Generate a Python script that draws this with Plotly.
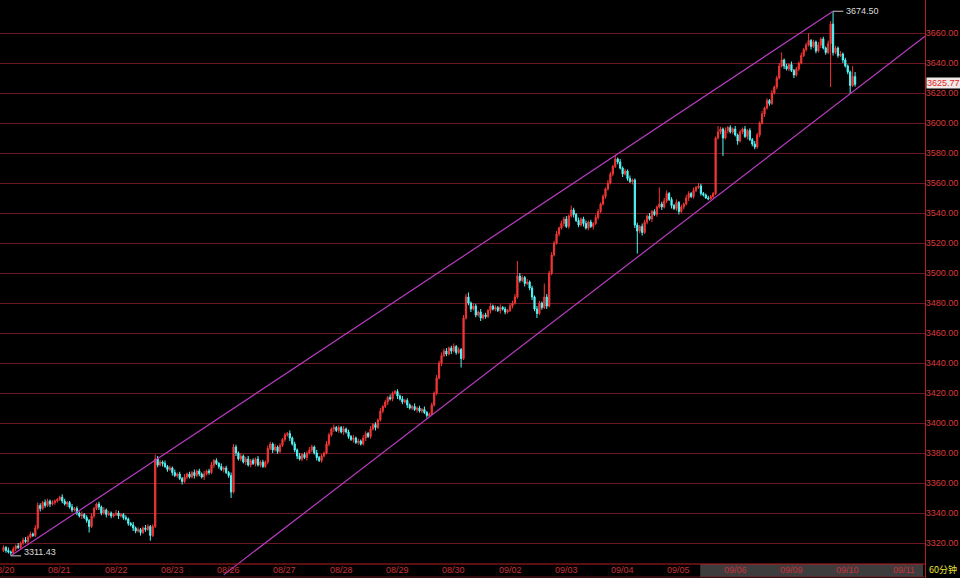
import numpy as np
import plotly.graph_objects as go

# 60-minute bars, closes in trading order
close_px = [
    3317, 3315, 3314, 3313.5, 3316, 3318, 3317, 3320, 3322, 3321,
    3324, 3326, 3325, 3330, 3345, 3343, 3347, 3345, 3348, 3346,
    3347, 3348, 3349, 3350.5, 3348, 3346, 3347, 3344, 3342, 3343,
    3340, 3338, 3339, 3337, 3335, 3331, 3338, 3343, 3346, 3344,
    3340, 3342, 3339, 3340, 3338, 3339, 3340, 3338, 3339, 3337,
    3336, 3333, 3332, 3330, 3328, 3329, 3327, 3330, 3329, 3331,
    3325, 3331, 3376, 3372, 3374, 3373, 3371, 3369, 3370, 3367,
    3365, 3366, 3363, 3361, 3364, 3366, 3364, 3367, 3365, 3368,
    3366, 3364, 3366, 3368, 3367, 3372, 3375, 3373, 3371, 3369,
    3370, 3367, 3365, 3354, 3384, 3380, 3376, 3378, 3374, 3376,
    3372, 3375, 3373, 3376, 3372, 3374, 3371, 3374, 3383, 3386,
    3382, 3384, 3381, 3385, 3389, 3392, 3393, 3390, 3386, 3382,
    3378, 3376, 3379, 3377, 3380, 3382, 3384, 3380, 3377, 3375,
    3378, 3380, 3386, 3392, 3396, 3397, 3395, 3397, 3394, 3396,
    3394, 3391, 3389, 3390, 3387, 3388, 3386, 3390, 3393, 3391,
    3396, 3399, 3397, 3402, 3408, 3411, 3414, 3417, 3416, 3420,
    3421, 3418, 3416, 3414, 3415, 3412, 3410, 3411, 3409, 3410,
    3408, 3409, 3407, 3405, 3406, 3412, 3420, 3430, 3440, 3445,
    3448, 3446, 3450, 3448, 3451, 3447, 3449, 3443, 3470, 3484,
    3480, 3476, 3478, 3472, 3474, 3470, 3472, 3471, 3475, 3478,
    3476, 3477, 3475, 3477, 3476, 3474, 3475, 3478, 3480, 3484,
    3498, 3495, 3497, 3493, 3494, 3490, 3484, 3476, 3473, 3480,
    3477, 3484, 3478, 3500, 3512, 3520, 3526, 3530, 3533, 3536,
    3531, 3538, 3542, 3539, 3535, 3532, 3536, 3533, 3530, 3534,
    3531, 3533, 3537, 3541, 3546, 3551, 3556, 3560, 3566, 3571,
    3576, 3574, 3570, 3566, 3568, 3563, 3561, 3562, 3532, 3528,
    3531, 3527, 3534, 3538, 3536, 3541, 3539, 3544, 3546, 3544,
    3548, 3553, 3549, 3545, 3543, 3547, 3541, 3544, 3546, 3550,
    3553, 3551, 3555, 3557, 3558, 3553, 3552, 3550, 3549.5, 3551,
    3553, 3590, 3594, 3596, 3590, 3595, 3597, 3594, 3596, 3592,
    3588, 3594, 3596, 3591, 3595, 3589, 3586, 3584, 3592, 3600,
    3606, 3610, 3615, 3613, 3620, 3624, 3630, 3638, 3642, 3638,
    3636, 3639, 3635, 3632, 3636, 3640, 3645, 3649, 3652, 3655,
    3651, 3654, 3648, 3652, 3656, 3650, 3647, 3653, 3666, 3647,
    3650, 3645, 3646, 3642, 3638, 3634, 3625, 3631, 3625.77,
]
first_open = 3315.0

# distance from the candle body to the top / bottom of each wick
upper_wick = [
    1.5, 1, 2, 1, 1.5, 1, 2, 1, 1.5, 2,
    1, 1.5, 1, 2, 2, 1.5, 1, 2, 1.5, 1,
    1.5, 1, 1, 1, 2, 1.5, 1, 1, 2, 1,
    1.5, 1, 2, 1, 1.5, 1, 2, 1, 1, 1.5,
    1, 2, 1, 1.5, 1, 1, 2, 1.5, 1, 1,
    1.5, 1, 1, 2, 1, 1.5, 1, 1, 2, 1.5,
    1, 1.5, 3, 2, 1.5, 1, 2, 1, 1.5, 1,
    2, 1, 1.5, 1, 2, 1, 1.5, 1, 2, 1,
    1.5, 1, 2, 1, 1.5, 2, 1, 1.5, 1, 2,
    1, 1.5, 1, 2, 2, 1.5, 1, 2, 1, 1.5,
    2, 1, 1.5, 1, 2, 1, 1.5, 1, 2, 1.5,
    1, 2, 1, 1.5, 1, 1.5, 1, 2, 1, 1.5,
    1, 2, 1, 1.5, 1, 2, 1.5, 1, 2, 1,
    1.5, 1, 2, 1.5, 1, 2, 1, 1.5, 1, 2,
    1, 1.5, 1, 2, 1, 1.5, 1, 2, 1.5, 1,
    2, 1, 1.5, 1, 2, 1, 1.5, 1, 2, 1,
    1, 1.5, 1, 2, 1, 1.5, 1, 1, 2, 1,
    1.5, 1, 2, 1, 1, 1.5, 1, 2, 1.5, 2,
    1.5, 2, 1, 1.5, 2, 1, 1.5, 1, 2, 2,
    3, 1, 2, 1.5, 1, 2, 1, 1.5, 1, 2,
    1, 1.5, 1, 2, 1, 1.5, 1, 2, 1.5, 2,
    10, 2, 1.5, 1, 2, 1, 1.5, 1, 2, 1.5,
    1, 9, 2, 1.5, 2, 1.5, 2, 1, 2, 1.5,
    2, 1, 3, 1.5, 1, 2, 1, 1.5, 2, 1,
    1.5, 1, 2, 1.5, 1, 1.5, 1, 2, 1.5, 1,
    2.7, 1, 2, 1, 1.5, 1, 2, 1, 1, 1.5,
    1, 2, 1.5, 1, 2, 1, 1.5, 1, 11, 1.5,
    2, 2, 1, 1.5, 1, 2, 1, 1.5, 1, 2,
    1.5, 1, 2, 1, 2, 1.5, 1, 1, 1.5, 1,
    1, 1, 4, 1.5, 1, 2, 1, 1.5, 1, 2,
    1, 1.5, 1, 2, 1, 1.5, 1, 2, 1.5, 1,
    2, 1, 1.5, 1, 2, 1, 1.5, 2, 5, 1,
    1.5, 1, 2, 1, 1.5, 1, 2, 1, 1.5, 5,
    1, 1.5, 1, 2, 1, 1.5, 1, 2, 2, 8.5,
    1.5, 1, 2, 1, 1.5, 1, 1, 7, 3,
]
lower_wick = [
    1, 1.5, 1, 2.07, 1, 1.5, 1, 1, 1.5, 1,
    1.5, 1, 1, 1, 1, 2, 1, 1.5, 1, 2,
    1, 1.5, 1, 1, 1.5, 1, 2, 1, 1.5, 1,
    1.5, 1, 2, 1, 1.5, 4, 1, 1.5, 1, 2,
    1.5, 1, 2, 1, 1.5, 1, 1, 2, 1, 1.5,
    1, 1.5, 1, 2, 1.5, 1, 2, 1, 1.5, 1,
    3.5, 1, 1, 1.5, 1, 2, 1, 1.5, 1, 2,
    1, 1.5, 1, 2, 1, 1.5, 1, 1, 2, 1,
    1.5, 1, 2, 1, 1.5, 1, 2, 1, 1.5, 1,
    2, 1, 1.5, 4, 1, 2, 1, 1.5, 1, 2,
    1, 1.5, 1, 2, 1, 1.5, 1, 1, 1.5, 1,
    2, 1, 1.5, 1, 1, 1.5, 1, 2, 1, 1.5,
    2, 1, 1.5, 1, 2, 1, 1.5, 1, 2, 1,
    1.5, 1, 1, 1.5, 1, 2, 1, 1.5, 1, 2,
    1, 1.5, 1, 2, 1, 1.5, 1, 1, 2, 1,
    1.5, 1, 2, 1, 1, 1.5, 1, 2, 1, 1.5,
    1, 2, 1, 1.5, 1, 2, 1, 1.5, 1, 2,
    1, 1.5, 1, 1.5, 1, 0.5, 1, 1.5, 1, 2,
    1, 1.5, 1, 2, 1, 1.5, 1, 6, 1, 1,
    1.5, 2, 1, 1.5, 1, 2, 1, 1.5, 1, 2,
    1, 1.5, 1, 2, 1, 1.5, 1, 1, 1.5, 1,
    1, 1.5, 1, 2, 1, 1.5, 2, 1.5, 3, 1,
    1.5, 1, 2, 1, 1.5, 1, 1, 1.5, 1, 2,
    1, 1.5, 1, 2, 1, 1.5, 1, 2, 1, 1.5,
    1, 2, 1, 1.5, 1, 1, 1.5, 1, 1, 1.5,
    1, 1.5, 1, 2, 1, 1.5, 1, 2, 2, 15,
    1.5, 2, 1, 1.5, 1, 2, 1, 1.5, 1, 2,
    1, 1.5, 1, 2, 1, 1.5, 2, 1, 1.5, 1,
    2, 1, 1.5, 1, 1, 1.5, 1, 0.5, 1, 0.7,
    1.5, 1, 1, 1.5, 12, 1, 2, 1, 1.5, 1,
    2.5, 1, 1.5, 1, 2, 1, 1.5, 1.5, 1, 1.5,
    1, 2, 1, 1.5, 1, 1, 1.5, 1, 1, 2,
    1, 1.5, 1, 2, 1, 1.5, 1, 1, 1.5, 1,
    2, 1, 1.5, 1, 2, 1, 1.5, 1, 29, 2,
    1, 1.5, 1, 2, 1, 1.5, 5.5, 1, 1.5,
]

day_labels = ["08/20", "08/21", "08/22", "08/23", "08/26", "08/27", "08/28",
              "08/29", "08/30", "09/02", "09/03", "09/04", "09/05", "09/06",
              "09/09", "09/10", "09/11"]
bars_per_day = 23
price_ticks = [3320, 3340, 3360, 3380, 3400, 3420, 3440, 3460, 3480, 3500,
               3520, 3540, 3560, 3580, 3600, 3620, 3640, 3660]
support_touches = [174, 346]   # bars whose lows carry the lower channel line
period_label = "60分钟"

UP = "#f23636"
DN = "#54f6f6"
CHANNEL = "#b83cc0"
GRID = "#6a1822"
AXIS = "#b81e24"
TXT_RED = "#d83a3a"

close = np.array(close_px, dtype=float)
open_ = np.concatenate([[first_open], close[:-1]])
high = np.maximum(open_, close) + np.array(upper_wick, dtype=float)
low = np.minimum(open_, close) - np.array(lower_wick, dtype=float)
bar = np.arange(len(close))

i_hi = int(np.argmax(high))
i_lo = int(np.argmin(low))
x_min, x_max = -1.43, 376.57
y_min, y_max = 3296.67, 3682.0

fig = go.Figure()
fig.add_trace(go.Candlestick(
    x=bar, open=open_, high=high, low=low, close=close,
    increasing=dict(line=dict(color=UP, width=1), fillcolor=UP),
    decreasing=dict(line=dict(color=DN, width=1), fillcolor=DN),
    whiskerwidth=0, hoverinfo="skip", showlegend=False,
))

# upper channel: from the lowest low to the highest high
fig.add_trace(go.Scatter(
    x=[i_lo, i_hi], y=[low[i_lo], high[i_hi]], mode="lines",
    line=dict(color=CHANNEL, width=1.2), hoverinfo="skip", showlegend=False,
))
# lower channel: through two swing lows, extended across the chart
a, b = support_touches
slope = (low[b] - low[a]) / (b - a)
lx = np.array([90.0, x_max])
fig.add_trace(go.Scatter(
    x=lx, y=low[a] + slope * (lx - a), mode="lines",
    line=dict(color=CHANNEL, width=1.2), hoverinfo="skip", showlegend=False,
))

# extreme-price markers
for i, v in ((i_hi, high[i_hi]), (i_lo, low[i_lo])):
    fig.add_trace(go.Scatter(
        x=[i, i + 4.2], y=[v, v], mode="lines",
        line=dict(color="#c8c8c8", width=1), hoverinfo="skip", showlegend=False,
    ))

annotations = [
    dict(x=i_hi + 4.4, y=high[i_hi], xref="x", yref="y", text=f"{high[i_hi]:.2f}",
         xanchor="left", yanchor="middle", showarrow=False,
         font=dict(color="#dcdcdc", size=9, family="Liberation Sans")),
    dict(x=i_lo + 4.4, y=low[i_lo] + 2.5, xref="x", yref="y", text=f"{low[i_lo]:.2f}",
         xanchor="left", yanchor="middle", showarrow=False,
         font=dict(color="#dcdcdc", size=9, family="Liberation Sans")),
    dict(x=1.0015, y=close[-1] + 1.2, xref="paper", yref="y", text=f"{close[-1]:.2f}",
         xanchor="left", yanchor="middle", showarrow=False, bgcolor="#f1e8e8",
         borderpad=0, font=dict(color="#e02424", size=9, family="Liberation Sans")),
    dict(x=1.002, y=0.0147, xref="paper", yref="paper", text=period_label,
         xanchor="left", yanchor="middle", showarrow=False,
         font=dict(color="#e8e23a", size=9, family="Noto Sans CJK SC")),
]
for k, lab in enumerate(day_labels):
    annotations.append(dict(
        x=k * bars_per_day, y=0.0147, xref="x", yref="paper", text=lab,
        xanchor="center", yanchor="middle", showarrow=False,
        font=dict(color="#c8303a", size=9, family="Liberation Sans"),
    ))

shapes = [
    dict(type="rect", xref="paper", yref="paper", x0=0.757, x1=0.998,
         y0=0.0017, y1=0.0242, fillcolor="#3d3d3d", line=dict(width=0), layer="below"),
    dict(type="line", xref="paper", yref="paper", x0=0, x1=1, y0=0.0242, y1=0.0242,
         line=dict(color=AXIS, width=1)),
    dict(type="line", xref="paper", yref="paper", x0=0, x1=1, y0=0.0017, y1=0.0017,
         line=dict(color="#6a1a22", width=1)),
]

fig.update_layout(
    width=960, height=578,
    margin=dict(l=0, r=35, t=0, b=0, autoexpand=False),
    paper_bgcolor="#000000", plot_bgcolor="#000000",
    showlegend=False,
    annotations=annotations, shapes=shapes,
    xaxis=dict(range=[x_min, x_max], showgrid=False, zeroline=False,
               showticklabels=False, rangeslider=dict(visible=False),
               fixedrange=True, automargin=False),
    yaxis=dict(range=[y_min, y_max], side="right", tickvals=price_ticks,
               ticktext=[f"{v:.2f}" for v in price_ticks], ticks="",
               ticklabelstandoff=-2,
               showgrid=True, gridcolor=GRID, gridwidth=1, zeroline=False,
               showline=True, linecolor=AXIS, linewidth=1, automargin=False,
               tickfont=dict(color=TXT_RED, size=9, family="Liberation Sans"),
               fixedrange=True),
)

fig.write_html("out.html")
